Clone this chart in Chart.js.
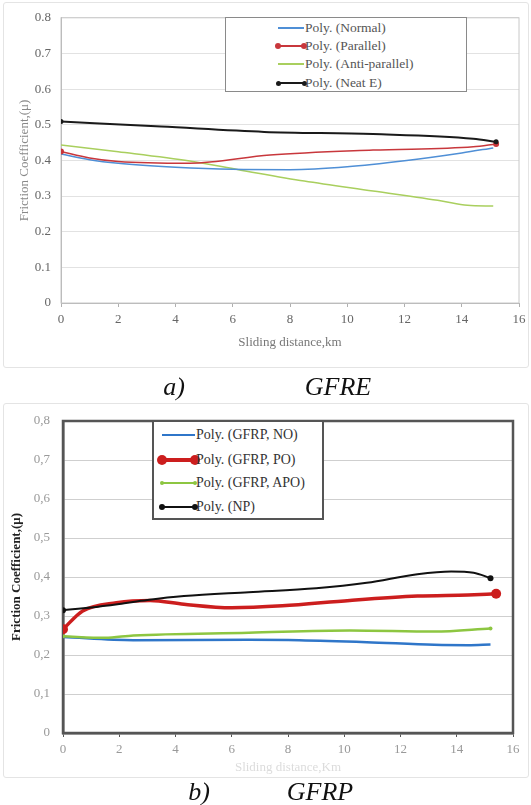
<!DOCTYPE html>
<html>
<head>
<meta charset="utf-8">
<script src="https://cdn.jsdelivr.net/npm/chart.js@4.4.0/dist/chart.umd.min.js"></script>
<style>
body { margin: 0; background: #fff; font-family: "Liberation Serif", serif; }
#page { position: relative; width: 531px; height: 805px; overflow: hidden; }
.frame { position: absolute; border: 1px solid #e4e4e4; border-radius: 3px; }
.holder { position: absolute; left: 0; }
.legend { position: absolute; background: #fff; box-sizing: border-box; }
.item { position: absolute; white-space: nowrap; line-height: 16px; }
.swatch { position: absolute; }
.dot { position: absolute; border-radius: 50%; }
.cap { position: absolute; font-style: italic; font-size: 26px; line-height: 26px; color: #111; transform: translateX(-50%); }
</style>
</head>
<body>
<div id="page">
  <div class="frame" style="left:3px; top:2px; width:524px; height:364px;"></div>
  <div class="frame" style="left:3px; top:403px; width:524px; height:373px;"></div>
  <div class="holder" style="top:0;"><canvas id="chartA" width="531" height="370"></canvas></div>
  <div class="holder" style="top:400px;"><canvas id="chartB" width="531" height="380"></canvas></div>
  <div id="legendA" class="legend" style="left:225px; top:17px; width:242px; height:75px; border:1px solid #8a8a8a;"></div>
  <div id="legendB" class="legend" style="left:152px; top:420px; width:172px; height:100px; border:2px solid #555;"></div>
  <div class="cap" style="left:174px; top:374px;">a)</div>
  <div class="cap" style="left:338px; top:374px;">GFRE</div>
  <div class="cap" style="left:199px; top:779px;">b)</div>
  <div class="cap" style="left:320px; top:779px;">GFRP</div>
</div>
<script>
// tick labels
var xTickLabels = ["0", "2", "4", "6", "8", "10", "12", "14", "16"];
var yTickLabelsA = ["0", "0.1", "0.2", "0.3", "0.4", "0.5", "0.6", "0.7", "0.8"];
var yTickLabelsB = ["0", "0,1", "0,2", "0,3", "0,4", "0,5", "0,6", "0,7", "0,8"];

// a) GFRE
var namesA = ["Poly. (Normal)", "Poly. (Parallel)", "Poly. (Anti-parallel)", "Poly. (Neat E)"];
var normalX = [0, 1, 2, 4, 6, 8, 10, 12, 14, 15.1];
var normalY = [0.418, 0.402, 0.392, 0.381, 0.375, 0.374, 0.382, 0.399, 0.421, 0.435];
var parallelX = [0, 1, 2, 4.5, 7.3, 10.9, 14.4, 15.2];
var parallelY = [0.425, 0.407, 0.397, 0.392, 0.415, 0.429, 0.438, 0.446];
var antiX = [0, 2, 4.5, 6.2, 8.5, 10.9, 13.3, 14.2, 15.1];
var antiY = [0.443, 0.424, 0.398, 0.374, 0.342, 0.314, 0.286, 0.274, 0.272];
var neatX = [0, 3.5, 7.1, 10.9, 14.4, 15.2];
var neatY = [0.509, 0.495, 0.48, 0.474, 0.461, 0.452];

// b) GFRP
var namesB = ["Poly. (GFRP, NO)", "Poly. (GFRP, PO)", "Poly. (GFRP, APO)", "Poly. (NP)"];
var noX = [0, 2.5, 6.6, 8.4, 10.8, 13.2, 14.4, 15.2];
var noY = [0.246, 0.238, 0.239, 0.238, 0.233, 0.226, 0.225, 0.227];
var poX = [0, 0.7, 1.9, 3.1, 4.3, 6.0, 7.8, 10.2, 12.6, 14.4, 15.4];
var poY = [0.266, 0.313, 0.334, 0.34, 0.33, 0.321, 0.326, 0.34, 0.351, 0.354, 0.357];
var apoX = [0, 1.5, 2.5, 6.6, 10.2, 13.2, 15.2];
var apoY = [0.248, 0.244, 0.25, 0.257, 0.263, 0.26, 0.268];
var npX = [0, 1, 2, 3, 4.3, 6.6, 9.0, 10.8, 12.6, 13.8, 14.6, 15.2];
var npY = [0.315, 0.322, 0.331, 0.341, 0.351, 0.361, 0.371, 0.385, 0.407, 0.414, 0.411, 0.397];

var serif = "'Liberation Serif', 'Times New Roman', serif";

function toPoints(xs, ys) {
    var pts = [];
    for (var i = 0; i < xs.length; i++) {
        pts.push({x: xs[i], y: ys[i]});
    }
    return pts;
}

// markers only on the two ends of a trendline
function endRadius(r) {
    return function(ctx) {
        var last = ctx.dataset.data.length - 1;
        return (ctx.dataIndex == 0 || ctx.dataIndex == last) ? r : 0;
    };
}

function series(label, xs, ys, color, width, marker) {
    return {
        label: label,
        data: toPoints(xs, ys),
        borderColor: color,
        backgroundColor: color,
        borderWidth: width,
        pointRadius: endRadius(marker),
        pointBorderWidth: 0,
        cubicInterpolationMode: 'monotone',
        fill: false
    };
}

var framePlugin = {
    id: 'frame',
    beforeDatasetsDraw: function(chart, args, opts) {
        var a = chart.chartArea;
        var ctx = chart.ctx;
        ctx.save();
        ctx.strokeStyle = opts.color;
        ctx.lineWidth = opts.width;
        ctx.strokeRect(a.left, a.top, a.right - a.left, a.bottom - a.top);
        ctx.restore();
    }
};

function makeChart(id, datasets, s) {
    var ctx = document.getElementById(id).getContext('2d');
    return new Chart(ctx, {
        type: 'line',
        data: {datasets: datasets},
        plugins: [framePlugin],
        options: {
            responsive: false,
            animation: false,
            layout: {padding: {top: s.padTop, right: s.padRight, left: 0, bottom: 0}},
            plugins: {
                legend: {display: false},
                tooltip: {enabled: false},
                frame: {color: s.frameColor, width: s.frameWidth}
            },
            scales: {
                x: {
                    type: 'linear', min: 0, max: 16,
                    ticks: {
                        stepSize: 2, padding: 5, color: s.tickColor,
                        font: {family: serif, size: 13},
                        callback: function(v) { return xTickLabels[Math.round(v / 2)]; }
                    },
                    grid: {drawOnChartArea: false, tickLength: 4, color: s.axisColor},
                    border: {color: s.axisColor, width: s.frameWidth},
                    title: {
                        display: true, text: s.xTitle, color: s.xTitleColor,
                        font: {family: serif, size: 13},
                        padding: {top: 0, bottom: s.xTitlePad}
                    },
                    afterFit: function(scale) { scale.height = s.xHeight; }
                },
                y: {
                    min: 0, max: 0.8,
                    ticks: {
                        stepSize: 0.1, padding: s.yTickPad, color: s.tickColor,
                        font: {family: serif, size: 13},
                        callback: function(v) { return s.yLabels[Math.round(v * 10)]; }
                    },
                    grid: {color: s.gridColor, drawTicks: false},
                    border: {color: s.axisColor, width: s.frameWidth},
                    title: {
                        display: true, text: 'Friction Coefficient,(μ)', color: s.yTitleColor,
                        font: {family: serif, size: 13, weight: s.yTitleWeight},
                        padding: {top: s.yTitlePad, bottom: 0}
                    },
                    afterFit: function(scale) { scale.width = s.yWidth; }
                }
            }
        }
    });
}

function makeLegend(id, names, colors, widths, markers, lay) {
    var box = document.getElementById(id);
    for (var i = 0; i < names.length; i++) {
        var cy = lay.rows[i];
        var line = document.createElement("div");
        line.className = "swatch";
        line.style.left = lay.lineFrom + "px";
        line.style.width = (lay.lineTo - lay.lineFrom) + "px";
        line.style.top = (cy - widths[i] / 2) + "px";
        line.style.height = widths[i] + "px";
        line.style.background = colors[i];
        box.appendChild(line);
        if (markers[i] > 0) {
            var ends = [lay.lineFrom, lay.lineTo];
            for (var k = 0; k < 2; k++) {
                var d = document.createElement("div");
                d.className = "dot";
                d.style.left = (ends[k] - markers[i]) + "px";
                d.style.top = (cy - markers[i]) + "px";
                d.style.width = d.style.height = (markers[i] * 2) + "px";
                d.style.background = colors[i];
                box.appendChild(d);
            }
        }
        var t = document.createElement("div");
        t.className = "item";
        t.innerText = names[i];
        t.style.left = lay.textLeft + "px";
        t.style.top = (cy - 8) + "px";
        t.style.fontSize = lay.fontSize + "px";
        t.style.color = lay.color;
        box.appendChild(t);
    }
}

var colorsA = ["#4f8fd6", "#c8373c", "#a9cf5e", "#1a1a1a"];
var widthsA = [1.5, 1.5, 1.5, 2];
var markersA = [0, 3, 0, 2.5];

var colorsB = ["#2f76c9", "#cc1e1e", "#8dc641", "#111111"];
var widthsB = [2.5, 3.5, 2.5, 2];
var markersB = [0, 5, 2, 3];

makeChart('chartA', [
    series(namesA[3], neatX, neatY, colorsA[3], widthsA[3], markersA[3]),
    series(namesA[1], parallelX, parallelY, colorsA[1], widthsA[1], markersA[1]),
    series(namesA[0], normalX, normalY, colorsA[0], widthsA[0], markersA[0]),
    series(namesA[2], antiX, antiY, colorsA[2], widthsA[2], markersA[2])
], {
    padTop: 17, padRight: 12, xHeight: 67, yWidth: 61,
    xTitle: 'Sliding distance,km', xTitleColor: '#777', xTitlePad: 20,
    yLabels: yTickLabelsA, yTickPad: 10, yTitleColor: '#888', yTitleWeight: 'normal', yTitlePad: 17,
    tickColor: '#666', gridColor: '#e2e2e2', axisColor: '#b0b0b0',
    frameColor: '#c8c8c8', frameWidth: 1
});

makeChart('chartB', [
    series(namesB[3], npX, npY, colorsB[3], widthsB[3], markersB[3]),
    series(namesB[1], poX, poY, colorsB[1], widthsB[1], markersB[1]),
    series(namesB[2], apoX, apoY, colorsB[2], widthsB[2], markersB[2]),
    series(namesB[0], noX, noY, colorsB[0], widthsB[0], markersB[0])
], {
    padTop: 21, padRight: 18, xHeight: 47, yWidth: 63,
    xTitle: 'Sliding distance,Km', xTitleColor: '#dcdcdc', xTitlePad: 5,
    yLabels: yTickLabelsB, yTickPad: 13, yTitleColor: '#222', yTitleWeight: 'bold', yTitlePad: 9,
    tickColor: '#999', gridColor: '#cfcfcf', axisColor: '#555',
    frameColor: '#555', frameWidth: 2.5
});

makeLegend('legendA', namesA, colorsA, widthsA, markersA,
    {rows: [10, 28, 46, 65], lineFrom: 52, lineTo: 78, textLeft: 79, fontSize: 13.5, color: '#555'});
makeLegend('legendB', namesB, colorsB, widthsB, markersB,
    {rows: [13, 38, 61, 85], lineFrom: 8, lineTo: 41, textLeft: 42, fontSize: 14, color: '#333'});
</script>
</body>
</html>
